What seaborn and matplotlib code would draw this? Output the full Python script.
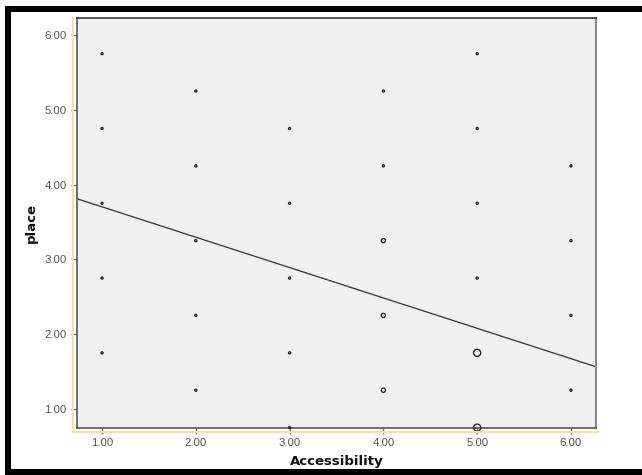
import numpy as np
import pandas as pd
import matplotlib
matplotlib.use("Agg")
import matplotlib.pyplot as plt
from matplotlib.patches import Rectangle
from matplotlib.lines import Line2D
import seaborn as sns

# ---- data ----
accessibility = [1, 1, 1, 1, 1,
                 2, 2, 2, 2, 2,
                 3, 3, 3, 3, 3,
                 4, 4, 4, 4, 4,
                 5, 5, 5, 5, 5, 5,
                 6, 6, 6, 6]
place = [5.75, 4.75, 3.75, 2.75, 1.75,
         5.25, 4.25, 3.25, 2.25, 1.25,
         4.75, 3.75, 2.75, 1.75, 0.75,
         5.25, 4.25, 3.25, 2.25, 1.25,
         5.75, 4.75, 3.75, 2.75, 1.75, 0.75,
         4.25, 3.25, 2.25, 1.25]
count = [1, 1, 1, 1, 1,
         1, 1, 1, 1, 1,
         1, 1, 1, 1, 1,
         1, 1, 2, 2, 2,
         1, 1, 1, 1, 3, 3,
         1, 1, 1, 1]
fit_intercept = 4.108
fit_slope = -0.406
x_ticks = [1, 2, 3, 4, 5, 6]
y_ticks = [1, 2, 3, 4, 5, 6]
x_tick_labels = ["1.00", "2.00", "3.00", "4.00", "5.00", "6.00"]
y_tick_labels = ["1.00", "2.00", "3.00", "4.00", "5.00", "6.00"]

df = pd.DataFrame({"Accessibility": accessibility, "place": place, "n": count})

sns.set_theme(style="white")
plt.rcParams["font.family"] = ["Liberation Sans", "DejaVu Sans"]

W, H = 642, 475
fig = plt.figure(figsize=(W / 100, H / 100), dpi=100)
fig.patch.set_facecolor("white")

L, R, T, B = 77, 596, 18, 428
ax = fig.add_axes([L / W, 1 - B / H, (R - L) / W, (B - T) / H])
ax.set_facecolor("#f0f0f0")

sns.scatterplot(data=df, x="Accessibility", y="place", size="n",
                sizes={1: 2.2, 2: 9, 3: 26}, facecolor="none",
                edgecolor="#2a2a2a", linewidth=1.0, legend=False,
                ax=ax, clip_on=False, zorder=3)

ax.axline((0, fit_intercept), slope=fit_slope, color="#3a3a3a", lw=0.95, zorder=2)

ax.set_xlim(0.733, 6.267)
ax.set_ylim(0.745, 6.227)
ax.set_xticks(x_ticks)
ax.set_xticklabels(x_tick_labels)
ax.set_yticks(y_ticks)
ax.set_yticklabels(y_tick_labels)
ax.tick_params(axis="both", which="major", direction="out", length=4, width=1,
               color="#777777", labelsize=8.2, labelcolor="#555555",
               left=True, bottom=True)
ax.tick_params(axis="x", pad=3)
ax.tick_params(axis="y", pad=3.5)

ax.set_xlabel("Accessibility", fontsize=9.5, fontweight="bold", color="#111111",
              family="DejaVu Sans", labelpad=5)
ax.set_ylabel("place", fontsize=9.5, fontweight="bold", color="#111111",
              family="DejaVu Sans", labelpad=5)

for s in ["left", "bottom"]:
    ax.spines[s].set_color("#555555")
    ax.spines[s].set_linewidth(1.2)
ax.spines["top"].set_color("#333333")
ax.spines["top"].set_linewidth(1.2)
ax.spines["right"].set_color("#888888")
ax.spines["right"].set_linewidth(1.5)

# pale yellow frame on left and bottom
yel = "#f3e3a0"
fig.add_artist(Line2D([73 / W, 73 / W], [1 - 18 / H, 1 - 432 / H],
                      transform=fig.transFigure, color=yel, lw=1.6))
fig.add_artist(Line2D([73 / W, 598 / W], [1 - 432 / H, 1 - 432 / H],
                      transform=fig.transFigure, color=yel, lw=1.6))

# black outer border (top, left, bottom)
fig.add_artist(Rectangle((5 / W, 1 - 12 / H), (W - 5) / W, 6 / H,
                         transform=fig.transFigure, color="black", lw=0))
fig.add_artist(Rectangle((5 / W, 0), 6 / W, 1 - 6 / H,
                         transform=fig.transFigure, color="black", lw=0))
fig.add_artist(Rectangle((5 / W, 0), (W - 5) / W, 6 / H,
                         transform=fig.transFigure, color="black", lw=0))

fig.savefig("out.png", dpi=100)
